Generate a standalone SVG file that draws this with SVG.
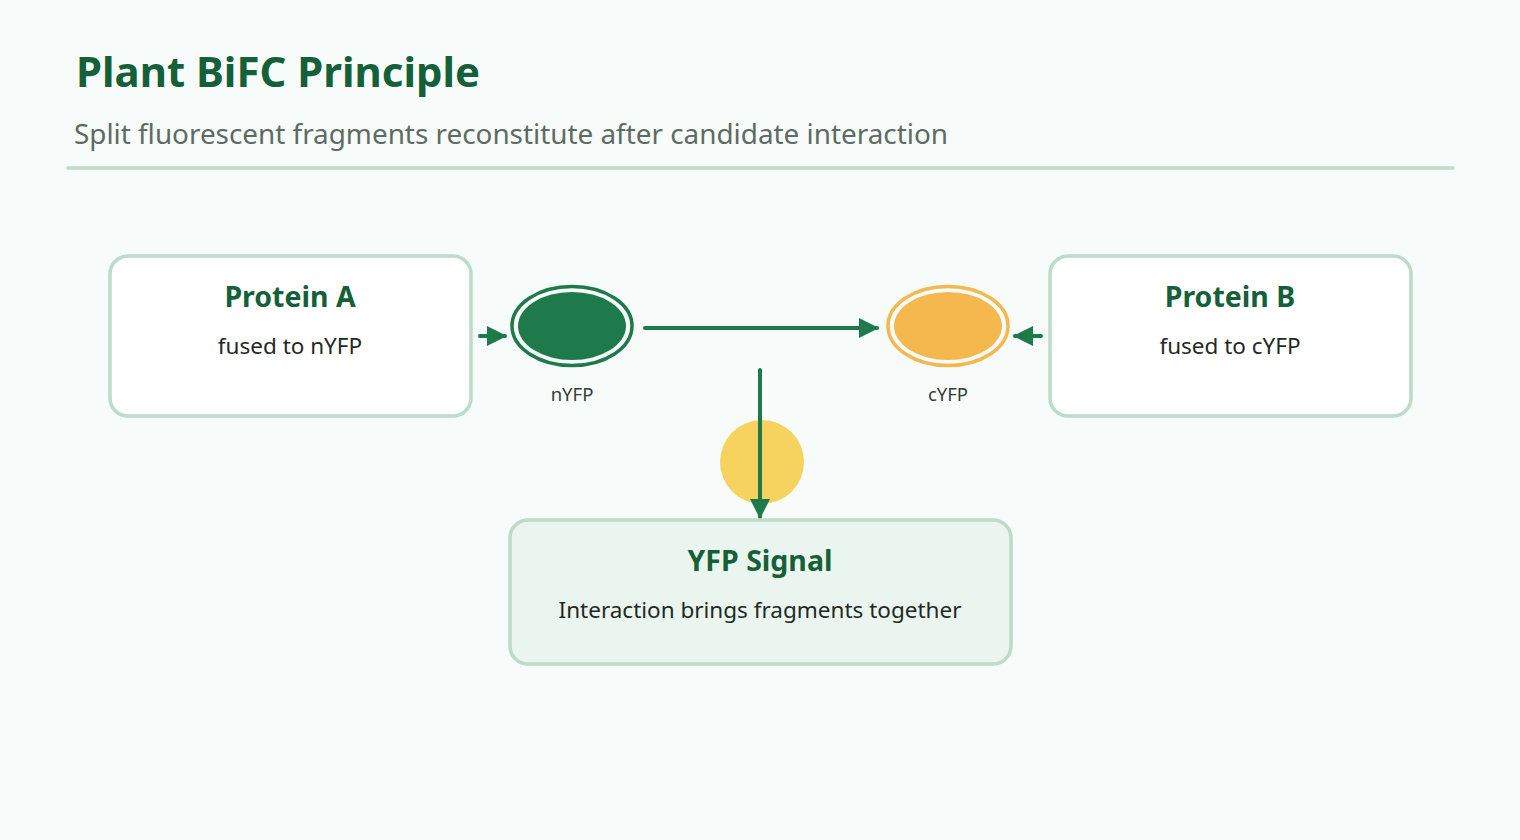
<svg xmlns="http://www.w3.org/2000/svg" width="1520" height="840" viewBox="0 0 1520 840">
<defs>
<marker id="arr" viewBox="0 0 20 20" refX="18" refY="10" markerWidth="20" markerHeight="20" markerUnits="userSpaceOnUse" orient="auto">
<path d="M0,0 L20,10 L0,20 Z" fill="#1e7a4a"/>
</marker>
<style>
.box{fill:#ffffff;stroke:#bddbc9;stroke-width:3.5}
.sig{fill:#ebf5ef;stroke:#bddbc9;stroke-width:3.5}
.h{font-family:"Noto Sans","Open Sans",sans-serif;font-weight:700;font-size:28.5px;fill:#155f39;text-anchor:middle}
.s{font-family:"Noto Sans","Open Sans",sans-serif;font-size:22.5px;fill:#1f2a24;text-anchor:middle}
.lbl{font-family:"Noto Sans","Open Sans",sans-serif;font-size:18.5px;fill:#333d37;text-anchor:middle}
.con{stroke:#1e7a4a;stroke-width:4;stroke-linecap:round;fill:none}
</style>
</defs>
<rect x="0" y="0" width="1520" height="840" fill="#f7fcfa"/>
<g id="header">
<text x="76" y="87" font-family="'Noto Sans','Open Sans',sans-serif" font-weight="700" font-size="41" fill="#155f39" textLength="404" lengthAdjust="spacingAndGlyphs">Plant BiFC Principle</text>
<text x="74" y="144" font-family="'Noto Sans','Open Sans',sans-serif" font-size="27" fill="#5d6b63" textLength="874" lengthAdjust="spacingAndGlyphs">Split fluorescent fragments reconstitute after candidate interaction</text>
<line x1="68" y1="168" x2="1453" y2="168" stroke="#bddbc9" stroke-width="3.5" stroke-linecap="round"/>
</g>
<g id="signal-glow">
<circle cx="762" cy="462" r="42" fill="#f6d35e"/>
</g>
<g id="connectors">
<line class="con" x1="480" y1="336" x2="505" y2="336" marker-end="url(#arr)"/>
<line class="con" x1="1041" y1="336" x2="1015" y2="336" marker-end="url(#arr)"/>
<line class="con" x1="645" y1="328" x2="877" y2="328" marker-end="url(#arr)"/>
<line class="con" x1="760" y1="370" x2="760" y2="517" marker-end="url(#arr)"/>
</g>
<g id="protein-a">
<rect class="box" x="110" y="256" width="361" height="160" rx="18"/>
<text class="h" x="290" y="307">Protein A</text>
<text class="s" x="290" y="354">fused to nYFP</text>
</g>
<g id="protein-b">
<rect class="box" x="1050" y="256" width="361" height="160" rx="18"/>
<text class="h" x="1230" y="307">Protein B</text>
<text class="s" x="1230" y="354">fused to cYFP</text>
</g>
<g id="nyfp">
<ellipse cx="572" cy="326" rx="60" ry="39.5" fill="none" stroke="#1e7a4a" stroke-width="3.5"/>
<ellipse cx="572" cy="326" rx="54" ry="34" fill="#1e7a4a"/>
<text class="lbl" x="572" y="401">nYFP</text>
</g>
<g id="cyfp">
<ellipse cx="948" cy="326" rx="60" ry="39.5" fill="none" stroke="#f4b84e" stroke-width="3.5"/>
<ellipse cx="948" cy="326" rx="54" ry="34" fill="#f4b84e"/>
<text class="lbl" x="948" y="401">cYFP</text>
</g>
<g id="yfp-signal">
<rect class="sig" x="510" y="520" width="501" height="144" rx="18"/>
<text class="h" x="760" y="571">YFP Signal</text>
<text class="s" x="760" y="618">Interaction brings fragments together</text>
</g>
</svg>
